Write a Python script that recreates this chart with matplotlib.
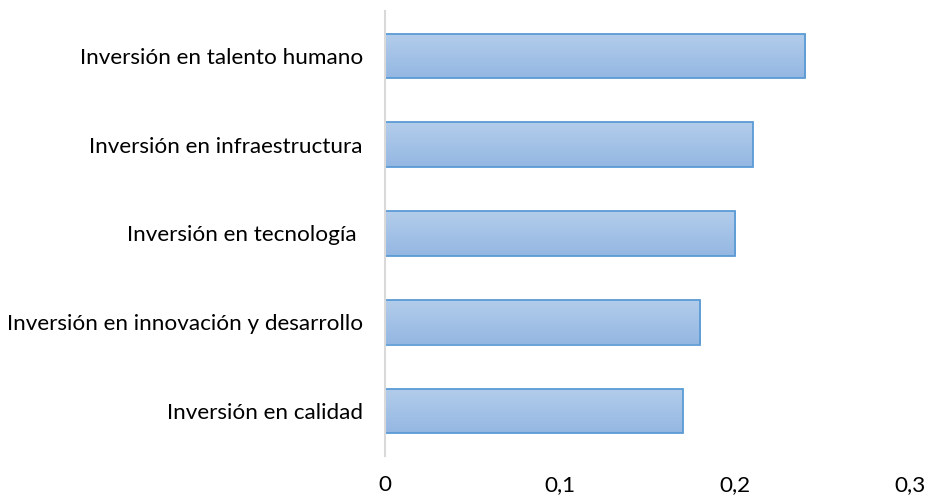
import matplotlib
matplotlib.use("Agg")
import matplotlib.pyplot as plt
import numpy as np
from matplotlib.colors import LinearSegmentedColormap

categories = ["Inversión en talento humano", "Inversión en infraestructura",
              "Inversión en tecnología ", "Inversión en innovación y desarrollo",
              "Inversión en calidad"]
values = [0.24, 0.21, 0.20, 0.18, 0.17]
xticks = [0, 0.1, 0.2, 0.3]
xticklabels = ["0", "0,1", "0,2", "0,3"]

plt.rcParams['font.family'] = ['Lato', 'DejaVu Sans']

fig = plt.figure(figsize=(9.28, 4.99), dpi=100)
ax = fig.add_axes([385/928, 1-455.5/499, (910-385)/928, (455.5-11.5)/499])

n = len(categories)
ypos = np.arange(n)[::-1]
h = 0.5
cmap = LinearSegmentedColormap.from_list("g", ["#B3CDEB", "#94B7E2"])
grad = np.linspace(0, 1, 64).reshape(-1, 1)
bars = ax.barh(ypos, values, height=h, facecolor="none", edgecolor="#5B9BD5", linewidth=1.3, zorder=3)
for b, y, v in zip(bars, ypos, values):
    im = ax.imshow(grad, cmap=cmap, aspect="auto", extent=[0, v, y - h/2, y + h/2],
                   origin="upper", zorder=2, interpolation="bicubic")
    im.set_clip_path(b)

ax.set_xlim(0, 0.3)
ax.set_ylim(-0.5, n - 0.5)
ax.set_yticks(ypos)
ax.set_yticklabels(categories, fontsize=16.2, color="#000000")
ax.set_xticks(xticks)
ax.set_xticklabels(xticklabels, fontsize=16.2, color="#000000")
ax.tick_params(axis="both", length=0)
ax.tick_params(axis="y", pad=16)
ax.tick_params(axis="x", pad=14)
for s in ["top", "right", "bottom"]:
    ax.spines[s].set_visible(False)
ax.spines["left"].set_color("#D9D9D9")
ax.spines["left"].set_linewidth(1.5)
ax.spines["left"].set_zorder(4)

fig.savefig("out.png", dpi=100)
